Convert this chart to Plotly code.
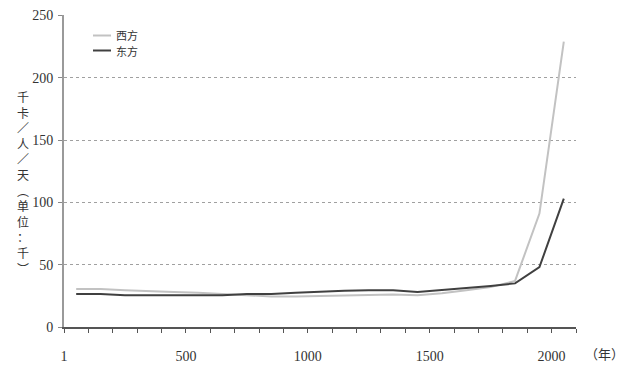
import plotly.graph_objects as go

years = [1, 100, 200, 300, 400, 500, 600, 700, 800, 900, 1000,
         1100, 1200, 1300, 1400, 1500, 1600, 1700, 1800, 1900, 2000]
west = [30.5, 30.5, 29.5, 28.5, 28, 27.5, 26.5, 25, 24.5, 24.5, 25,
        25.5, 26, 26, 25.5, 27, 29.5, 32, 37, 91, 229]
east = [26.5, 26.5, 25.5, 25.5, 25.5, 25.5, 25.5, 26.5, 26.5, 27.5, 28.5,
        29, 29.5, 29.5, 28, 29.5, 31, 33, 35, 48, 103]
x_tick_labels = ["1", "500", "1000", "1500", "2000"]
y_ticks = [0, 50, 100, 150, 200, 250]
series_names = ["西方", "东方"]
y_title = "千卡／人／天︵单位：千︶"
x_unit = "（年）"

WEST_C = "#c2c2c2"
EAST_C = "#404040"
SERIF = "Liberation Serif"
CJK = "Noto Sans CJK SC"

# page body has an 8px margin; figure sized so plot sits at reference position
W, H = 620, 366
ML, MR, MT, MB = 56, 52, 7, 47
PW = W - ML - MR
PH = H - MT - MB


def px_x(p):
    return (p - 8 - ML) / PW


def px_y(p):
    return 1 - (p - 8 - MT) / PH


idx = list(range(len(years)))

fig = go.Figure()
fig.add_trace(go.Scatter(x=idx, y=west, mode="lines", name=series_names[0],
                         line=dict(color=WEST_C, width=2), showlegend=False))
fig.add_trace(go.Scatter(x=idx, y=east, mode="lines", name=series_names[1],
                         line=dict(color=EAST_C, width=2), showlegend=False))

tick_pos = [i - 0.5 for i in range(len(years) + 1)]
label_map = {}
for lab in x_tick_labels:
    y = int(lab)
    if y in years:
        label_map[years.index(y)] = lab
tick_text = [label_map.get(i, "") for i in range(len(tick_pos))]

fig.update_layout(
    width=W, height=H,
    margin=dict(l=ML, r=MR, t=MT, b=MB, autoexpand=False),
    paper_bgcolor="white", plot_bgcolor="white",
    font=dict(family=SERIF, size=14, color="#333333"),
    xaxis=dict(range=[-0.5, len(years) - 0.5], tickvals=tick_pos, ticktext=tick_text,
               ticks="outside", ticklen=4, tickcolor="#555555", tickwidth=1,
               showline=True, linecolor="#555555", linewidth=1.5,
               showgrid=False, zeroline=False, ticklabelstandoff=11,
               tickfont=dict(family=SERIF, size=14, color="#333333")),
    yaxis=dict(range=[0, 250.4], tickvals=y_ticks, ticks="outside", ticklen=4,
               tickcolor="#888888", showline=True, linecolor="#9a9a9a", linewidth=2,
               showgrid=True, gridcolor="#a0a0a0", griddash="dot", gridwidth=1,
               zeroline=False, ticklabelstandoff=2,
               tickfont=dict(family=SERIF, size=14, color="#333333")),
)

# vertical y-axis title (stacked characters)
fig.add_annotation(text="<br>".join(list(y_title)), xref="paper", yref="paper",
                   x=px_x(23), y=px_y(182), xanchor="center", yanchor="middle",
                   showarrow=False, align="center",
                   font=dict(family=CJK, size=12, color="#333333"))

# x unit
fig.add_annotation(text=x_unit, xref="paper", yref="paper",
                   x=px_x(583), y=px_y(353), xanchor="left", yanchor="middle",
                   showarrow=False, font=dict(family=CJK, size=13, color="#333333"))

# legend (manual)
leg = [(series_names[0], WEST_C, 35.5), (series_names[1], EAST_C, 50.5)]
for name, col, yp in leg:
    fig.add_shape(type="line", xref="paper", yref="paper",
                  x0=px_x(93), x1=px_x(111), y0=px_y(yp), y1=px_y(yp),
                  line=dict(color=col, width=2))
    fig.add_annotation(text=name, xref="paper", yref="paper",
                       x=px_x(115), y=px_y(yp), xanchor="left", yanchor="middle",
                       showarrow=False, borderpad=0,
                       font=dict(family=CJK, size=11, color="#333333"))

fig.write_html("out.html")
